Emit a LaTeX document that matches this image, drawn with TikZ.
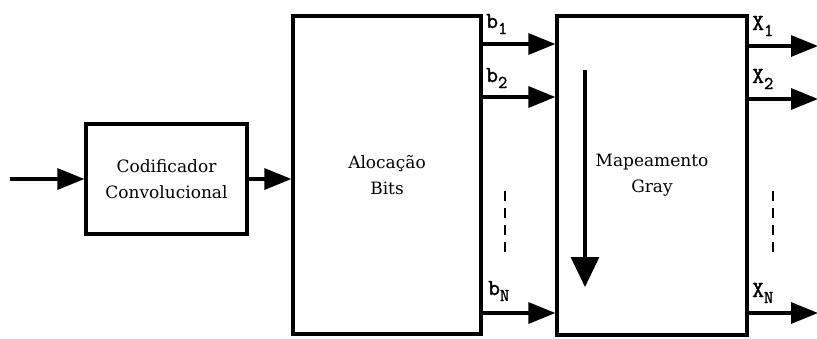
\documentclass[tikz,border=0pt]{standalone}
\usepackage{fontspec}
\setmainfont{DejaVu Serif}
\newfontfamily\labfont[AutoFakeBold=1.5]{Latin Modern Mono}
\usetikzlibrary{arrows.meta}
\newcommand{\lsub}[2]{#1\raisebox{-6pt}{\fontsize{18}{20}\selectfont #2}}
\begin{document}
\begin{tikzpicture}[x=1pt,y=-1pt,
  blk/.style={draw,line width=3.2pt,inner sep=0pt,align=center,
    font=\fontsize{17}{26}\selectfont},
  flow/.style={line width=3.2pt,-{Triangle[length=27pt,width=21pt]}},
  dots/.style={line width=2.2pt,dash pattern=on 10pt off 7pt},
  lab/.style={anchor=base west,inner sep=0pt,font=\labfont\bfseries\fontsize{23}{24}\selectfont}]
\useasboundingbox (0,0) rectangle (817,338);
\node[blk,minimum width=161pt,minimum height=110pt] (cod) at (166.5,179) {Codificador\\Convolucional};
\node[blk,minimum width=188pt,minimum height=318pt] (aloc) at (387,175) {Alocação\\Bits};
\node[blk,minimum width=190pt,minimum height=319pt] (map) at (652,175.5) {Mapeamento\\Gray};
\coordinate (in) at (10,179);
\draw[flow] (in) -- (cod.west);
\draw[flow] (cod.east) -- (cod.east -| aloc.west);
% b outputs
\coordinate (b1) at (aloc.east |- 0,44);
\coordinate (b2) at (aloc.east |- 0,97);
\coordinate (bN) at (aloc.east |- 0,313);
\draw[flow] (b1) -- (b1 -| map.west);
\draw[flow] (b2) -- (b2 -| map.west);
\draw[flow] (bN) -- (bN -| map.west);
\coordinate (x1s) at (map.east |- 0,46);
\coordinate (x2s) at (map.east |- 0,99);
\coordinate (xNs) at (map.east |- 0,313);
\coordinate (x1e) at (818,46);
\coordinate (x2e) at (818,99);
\coordinate (xNe) at (818,313);
\draw[flow] (x1s) -- (x1e);
\draw[flow] (x2s) -- (x2e);
\draw[flow] (xNs) -- (xNe);
% labels
\node[lab] (lb1) at (486,28) {\lsub{b}{1}};
\node[lab] (lb2) at (486,82) {\lsub{b}{2}};
\node[lab] (lbN) at (488,295) {\lsub{b}{N}};
\node[lab] (lx1) at (752,30) {\lsub{X}{1}};
\node[lab] (lx2) at (752,83) {\lsub{X}{2}};
\node[lab] (lxN) at (752,297) {\lsub{X}{N}};
% dashed
\coordinate (d1a) at (505,191); \coordinate (d1b) at (505,257);
\coordinate (d2a) at (773,191); \coordinate (d2b) at (773,257);
\draw[dots] (d1a) -- (d1b);
\draw[dots] (d2a) -- (d2b);
% down arrow
\coordinate (da) at (585,70); \coordinate (db) at (585,287);
\draw[line width=3.2pt,-{Triangle[length=30pt,width=28pt]}] (da) -- (db);
\end{tikzpicture}
\end{document}
